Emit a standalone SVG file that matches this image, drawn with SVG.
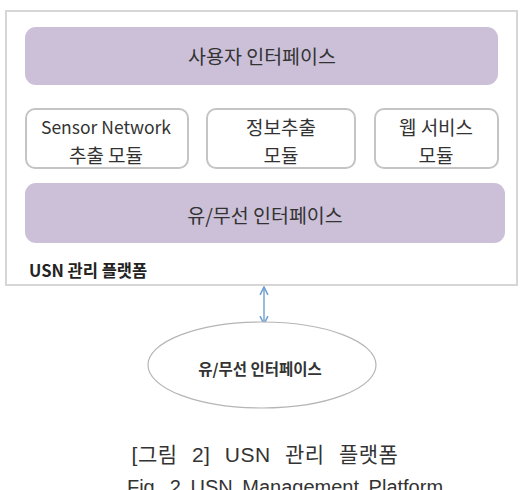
<svg xmlns="http://www.w3.org/2000/svg" width="530" height="490" viewBox="0 0 530 490">
<style>
.bar{fill:#cbc0d8;}
.mod{fill:#ffffff;stroke:#c4c4c4;stroke-width:2;}
.t{font-family:"Noto Sans CJK KR","Noto Sans",sans-serif;fill:#333333;text-anchor:middle;}
.cap{font-family:"Liberation Sans","Noto Sans CJK KR",sans-serif;fill:#333;text-anchor:middle;}
</style>
<defs>
<marker id="ah" viewBox="0 0 10 10" refX="9" refY="5" markerWidth="7" markerHeight="7" orient="auto-start-reverse">
<path d="M1,1 L9,5 L1,9" fill="none" stroke="#6f9fd0" stroke-width="1.6"/>
</marker>
</defs>
<rect width="530" height="490" fill="#ffffff"/>
<g id="platform">
<rect x="6" y="11" width="511" height="274" fill="#ffffff" stroke="#d6d6d6" stroke-width="2"/>
<text x="29" y="277" font-family="Noto Sans CJK KR,sans-serif" font-weight="bold" font-size="16.5" fill="#222">USN 관리 플랫폼</text>
</g>
<g id="user-interface">
<rect class="bar" x="25" y="27" width="473" height="58" rx="11"/>
<text class="t" x="262" y="64" font-size="19.5">사용자 인터페이스</text>
</g>
<g id="sensor-module">
<rect class="mod" x="26" y="109" width="162" height="59" rx="9"/>
<text class="t" x="106" y="134" font-size="17.5">Sensor Network</text>
<text class="t" x="106" y="163" font-size="19">추출 모듈</text>
</g>
<g id="info-module">
<rect class="mod" x="207" y="109" width="148" height="59" rx="9"/>
<text class="t" x="281" y="135" font-size="19">정보추출</text>
<text class="t" x="281" y="163" font-size="19">모듈</text>
</g>
<g id="web-module">
<rect class="mod" x="375" y="109" width="123" height="59" rx="9"/>
<text class="t" x="436" y="135" font-size="19">웹 서비스</text>
<text class="t" x="436" y="163" font-size="19">모듈</text>
</g>
<g id="wired-interface">
<rect class="bar" x="25" y="183" width="480" height="60" rx="11"/>
<text class="t" x="265" y="223" font-size="19.5">유/무선 인터페이스</text>
</g>
<g id="connectors">
<line x1="264" y1="287" x2="264" y2="324" stroke="#6f9fd0" stroke-width="1.4" marker-start="url(#ah)" marker-end="url(#ah)"/>
</g>
<g id="external-interface">
<ellipse cx="262" cy="365" rx="114" ry="43" fill="#ffffff" stroke="#b5b5b5" stroke-width="1.2"/>
<text class="t" x="260" y="375" font-size="15.5" font-weight="bold" fill="#444">유/무선 인터페이스</text>
</g>
<text class="cap" x="265" y="462" font-size="21" letter-spacing="0.5" word-spacing="8">[그림 2] USN 관리 플랫폼</text>
<text class="cap" x="285" y="494" font-size="20" word-spacing="4">Fig. 2 USN Management Platform</text>
</svg>
